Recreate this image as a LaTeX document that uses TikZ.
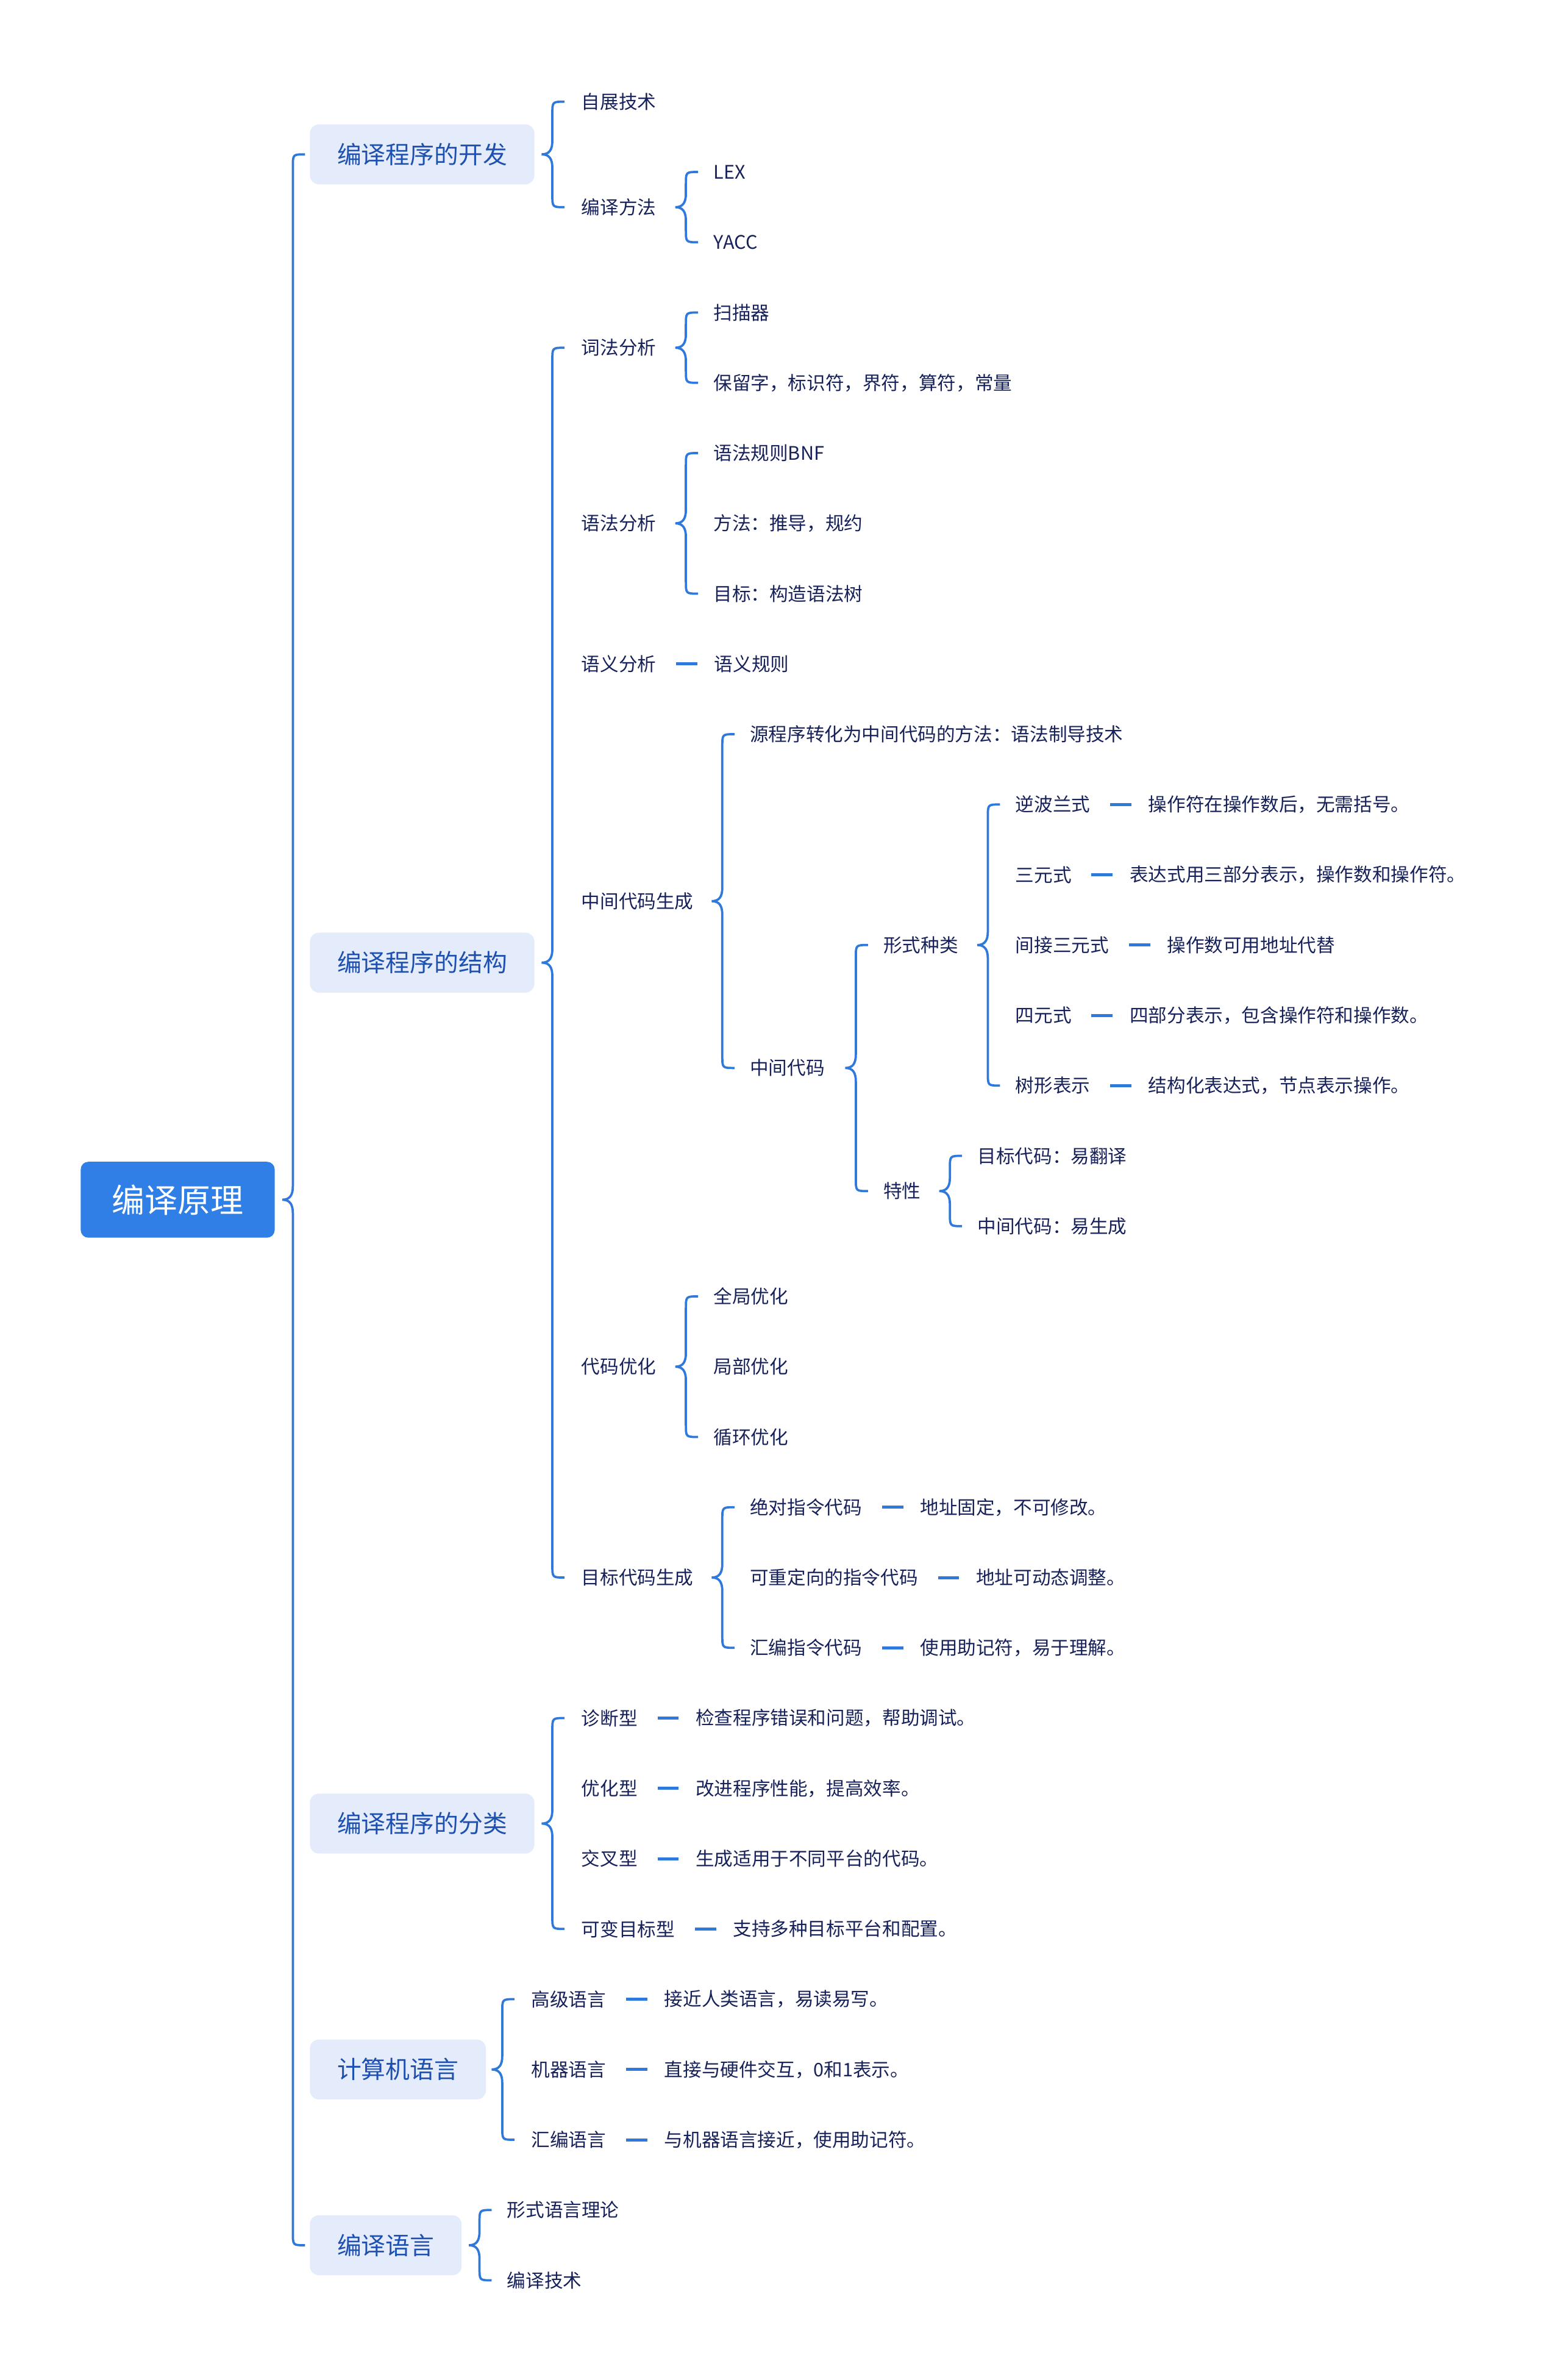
\documentclass[tikz,border=0pt]{standalone}
\usepackage{fontspec}
\setmainfont{Noto Sans CJK SC}
\usetikzlibrary{calc}
\usetikzlibrary{positioning}

\definecolor{linkblue}{HTML}{3079DC}
\definecolor{rootblue}{HTML}{2F7FE6}
\definecolor{boxfill}{HTML}{E4ECFC}
\definecolor{boxtext}{HTML}{1E50B0}
\definecolor{leaftext}{HTML}{17215A}

\tikzset{
  rootbox/.style={rectangle, rounded corners=5, fill=rootblue, text=white,
    inner xsep=20.5, minimum height=50, anchor=west,
    font=\fontsize{21.7}{24}\selectfont},
  topicbox/.style={rectangle, rounded corners=6, fill=boxfill, text=boxtext,
    inner xsep=18, minimum height=39.5, anchor=west,
    font=\fontsize{16}{19}\selectfont},
  leaf/.style={inner sep=0, text=leaftext, anchor=west,
    font=\fontsize{12.3}{15}\selectfont},
  link/.style={draw=linkblue, line width=1.5},
  dashlink/.style={draw=linkblue, line width=2},
}

% curly bracket from a parent to its first and last child
\newcommand{\bracelink}[4][18]{%
  \draw[link] let \p1=(#2.east), \p2=($(#3.west)-(#1,0)$), \p3=($(#4.west)-(#1,0)$) in
    (\x2+8pt,\y2) .. controls (\x2,\y2) .. (\x2,\y2-8pt)
    -- (\x2,\y1+9pt) .. controls (\x2,\y1+3pt) and (\x2-2pt,\y1) .. (\x2-7pt,\y1)
    .. controls (\x2-2pt,\y1) and (\x2,\y1-3pt) .. (\x2,\y1-9pt)
    -- (\x2,\y3+8pt) .. controls (\x2,\y3) .. (\x2+8pt,\y3);%
}

\begin{document}
\begin{tikzpicture}[x=1pt, y=1pt]
  \useasboundingbox (0,0) rectangle (1028,-1568);

  \node[rootbox] (root) at (53,-790.4) {编译原理};

  \node[topicbox] (dev) at (204,-101.7) {编译程序的开发};
  \node[topicbox] (struct) at (204,-634.2) {编译程序的结构};
  \node[topicbox] (kind) at (204,-1201.4) {编译程序的分类};
  \node[topicbox] (lang) at (204,-1363.4) {计算机语言};
  \node[topicbox] (clang) at (204,-1479.2) {编译语言};

  % development
  \node[leaf] (boot) at (383,-67) {自展技术};
  \node[leaf] (method) at (383,-136.5) {编译方法};
  \node[leaf] (lex) at (470,-113.3) {LEX};
  \node[leaf] (yacc) at (470,-159.6) {YACC};

  % structure
  \node[leaf] (lexan) at (383,-229.1) {词法分析};
  \node[leaf] (scan) at (470,-205.9) {扫描器};
  \node[leaf] (token) at (470,-252.2) {保留字，标识符，界符，算符，常量};
  \node[leaf] (syn) at (383,-344.8) {语法分析};
  \node[leaf] (bnf) at (470,-298.5) {语法规则BNF};
  \node[leaf] (synway) at (470,-344.8) {方法：推导，规约};
  \node[leaf] (syngoal) at (470,-391.1) {目标：构造语法树};
  \node[leaf] (sem) at (383,-437.4) {语义分析};
  \node[leaf, right=38pt of sem] (semrule) {语义规则};
  \node[leaf] (icgen) at (383,-593.7) {中间代码生成};
  \node[leaf] (sdt) at (494,-483.7) {源程序转化为中间代码的方法：语法制导技术};
  \node[leaf] (ic) at (494,-703.6) {中间代码};
  \node[leaf] (form) at (582,-622.6) {形式种类};
  \node[leaf] (rpn) at (669,-530) {逆波兰式};
  \node[leaf, right=38pt of rpn] (rpnx) {操作符在操作数后，无需括号。};
  \node[leaf] (triple) at (669,-576.3) {三元式};
  \node[leaf, right=38pt of triple] (triplex) {表达式用三部分表示，操作数和操作符。};
  \node[leaf] (itriple) at (669,-622.6) {间接三元式};
  \node[leaf, right=38pt of itriple] (itriplex) {操作数可用地址代替};
  \node[leaf] (quad) at (669,-668.9) {四元式};
  \node[leaf, right=38pt of quad] (quadx) {四部分表示，包含操作符和操作数。};
  \node[leaf] (tree) at (669,-715.2) {树形表示};
  \node[leaf, right=38pt of tree] (treex) {结构化表达式，节点表示操作。};
  \node[leaf] (feat) at (582,-784.7) {特性};
  \node[leaf] (tgtfeat) at (644,-761.5) {目标代码：易翻译};
  \node[leaf] (icfeat) at (644,-807.8) {中间代码：易生成};
  \node[leaf] (opt) at (383,-900.4) {代码优化};
  \node[leaf] (gopt) at (470,-854.1) {全局优化};
  \node[leaf] (lopt) at (470,-900.4) {局部优化};
  \node[leaf] (loopt) at (470,-946.7) {循环优化};
  \node[leaf] (tgt) at (383,-1039.3) {目标代码生成};
  \node[leaf] (abs) at (494,-993) {绝对指令代码};
  \node[leaf, right=38pt of abs] (absx) {地址固定，不可修改。};
  \node[leaf] (reloc) at (494,-1039.3) {可重定向的指令代码};
  \node[leaf, right=38pt of reloc] (relocx) {地址可动态调整。};
  \node[leaf] (asm) at (494,-1085.6) {汇编指令代码};
  \node[leaf, right=38pt of asm] (asmx) {使用助记符，易于理解。};

  % classification
  \node[leaf] (diag) at (383,-1131.9) {诊断型};
  \node[leaf, right=38pt of diag] (diagx) {检查程序错误和问题，帮助调试。};
  \node[leaf] (optk) at (383,-1178.2) {优化型};
  \node[leaf, right=38pt of optk] (optkx) {改进程序性能，提高效率。};
  \node[leaf] (cross) at (383,-1224.5) {交叉型};
  \node[leaf, right=38pt of cross] (crossx) {生成适用于不同平台的代码。};
  \node[leaf] (retgt) at (383,-1270.8) {可变目标型};
  \node[leaf, right=38pt of retgt] (retgtx) {支持多种目标平台和配置。};

  % languages
  \node[leaf] (high) at (350,-1317.1) {高级语言};
  \node[leaf, right=38pt of high] (highx) {接近人类语言，易读易写。};
  \node[leaf] (mach) at (350,-1363.4) {机器语言};
  \node[leaf, right=38pt of mach] (machx) {直接与硬件交互，0和1表示。};
  \node[leaf] (asml) at (350,-1409.7) {汇编语言};
  \node[leaf, right=38pt of asml] (asmlx) {与机器语言接近，使用助记符。};

  \node[leaf] (formal) at (334,-1456) {形式语言理论};
  \node[leaf] (ctech) at (334,-1502.3) {编译技术};

  \bracelink[11]{root}{dev}{clang}
  \bracelink[19]{dev}{boot}{method}
  \bracelink{method}{lex}{yacc}
  \bracelink[19]{struct}{lexan}{tgt}
  \bracelink{lexan}{scan}{token}
  \bracelink{syn}{bnf}{syngoal}
  \bracelink{icgen}{sdt}{ic}
  \bracelink{ic}{form}{feat}
  \bracelink{form}{rpn}{tree}
  \bracelink{feat}{tgtfeat}{icfeat}
  \bracelink{opt}{gopt}{loopt}
  \bracelink{tgt}{abs}{asm}
  \bracelink[19]{kind}{diag}{retgt}
  \bracelink[19]{lang}{high}{asml}
  \bracelink{clang}{formal}{ctech}

  \draw[dashlink] ($(sem.east)+(13,0)$) -- ($(semrule.west)-(11,0)$);
  \draw[dashlink] ($(rpn.east)+(13,0)$) -- ($(rpnx.west)-(11,0)$);
  \draw[dashlink] ($(triple.east)+(13,0)$) -- ($(triplex.west)-(11,0)$);
  \draw[dashlink] ($(itriple.east)+(13,0)$) -- ($(itriplex.west)-(11,0)$);
  \draw[dashlink] ($(quad.east)+(13,0)$) -- ($(quadx.west)-(11,0)$);
  \draw[dashlink] ($(tree.east)+(13,0)$) -- ($(treex.west)-(11,0)$);
  \draw[dashlink] ($(abs.east)+(13,0)$) -- ($(absx.west)-(11,0)$);
  \draw[dashlink] ($(reloc.east)+(13,0)$) -- ($(relocx.west)-(11,0)$);
  \draw[dashlink] ($(asm.east)+(13,0)$) -- ($(asmx.west)-(11,0)$);
  \draw[dashlink] ($(diag.east)+(13,0)$) -- ($(diagx.west)-(11,0)$);
  \draw[dashlink] ($(optk.east)+(13,0)$) -- ($(optkx.west)-(11,0)$);
  \draw[dashlink] ($(cross.east)+(13,0)$) -- ($(crossx.west)-(11,0)$);
  \draw[dashlink] ($(retgt.east)+(13,0)$) -- ($(retgtx.west)-(11,0)$);
  \draw[dashlink] ($(high.east)+(13,0)$) -- ($(highx.west)-(11,0)$);
  \draw[dashlink] ($(mach.east)+(13,0)$) -- ($(machx.west)-(11,0)$);
  \draw[dashlink] ($(asml.east)+(13,0)$) -- ($(asmlx.west)-(11,0)$);

\end{tikzpicture}
\end{document}
